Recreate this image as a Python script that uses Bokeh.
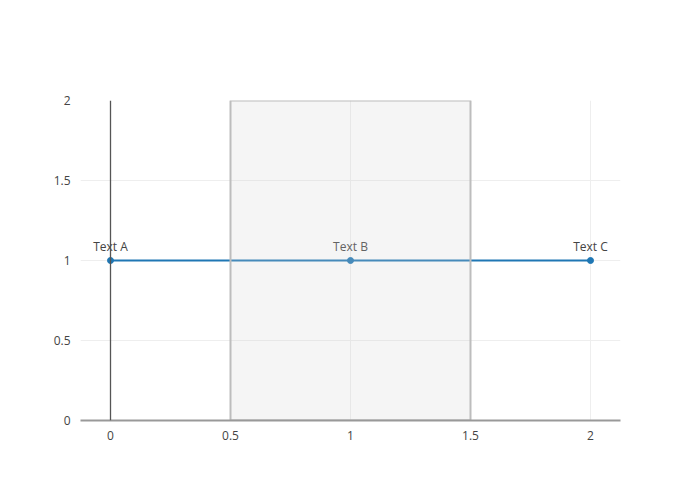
from bokeh.plotting import figure
from bokeh.models import ColumnDataSource, FixedTicker, Span, Range1d
from bokeh.core.properties import value
from bokeh.embed import file_html
from bokeh.resources import INLINE

xs = [0, 1, 2]
ys = [1, 1, 1]
labels = ["Text A", "Text B", "Text C"]
rect_x0, rect_x1 = 0.5, 1.5
rect_y0, rect_y1 = 0, 2
x_ticks = [0, 0.5, 1, 1.5, 2]
y_ticks = [0, 0.5, 1, 1.5, 2]
tick_text = ["0", "0.5", "1", "1.5", "2"]

FONT = "Open Sans"
TXT = "#444444"

p = figure(width=684, height=484, output_backend="svg", toolbar_location=None,
           x_range=Range1d(-0.125, 2.125), y_range=Range1d(0, 2),
           min_border_left=80, min_border_right=64, min_border_top=100, min_border_bottom=64)
p.outline_line_color = None
p.background_fill_color = "white"
p.border_fill_color = "white"

for ax in (p.xaxis[0], p.yaxis[0]):
    ax.major_tick_line_color = None
    ax.minor_tick_line_color = None
    ax.major_label_text_font = FONT
    ax.major_label_text_font_size = "12px"
    ax.major_label_text_color = TXT
p.xaxis.ticker = FixedTicker(ticks=x_ticks)
p.yaxis.ticker = FixedTicker(ticks=y_ticks)
p.xaxis.major_label_overrides = {t: s for t, s in zip(x_ticks, tick_text)}
p.yaxis.major_label_overrides = {t: s for t, s in zip(y_ticks, tick_text)}
p.xaxis.axis_line_color = "#999999"
p.xaxis.axis_line_width = 2
p.yaxis.axis_line_color = None
p.xaxis.major_label_standoff = 4
p.yaxis.major_label_standoff = 4

p.xgrid.grid_line_color = "#eeeeee"
p.ygrid.grid_line_color = "#eeeeee"
p.xgrid.grid_line_width = 1
p.ygrid.grid_line_width = 1

p.add_layout(Span(location=0, dimension="height", line_color="#555555", line_width=1.3))

src = ColumnDataSource(dict(x=xs, y=ys, t=labels))
p.line("x", "y", source=src, line_color="#1f77b4", line_width=2)
p.scatter("x", "y", source=src, size=6, fill_color="#1f77b4", line_color="#1f77b4")
p.text("x", "y", text="t", source=src, text_font=value(FONT), text_font_size="12px",
       text_color=TXT, text_align="center", text_baseline="bottom", y_offset=-6)

p.quad(left=[rect_x0], right=[rect_x1], bottom=[rect_y0], top=[rect_y1],
       fill_color="#d3d3d3", fill_alpha=0.22, line_color="#bdbdbd", line_width=2)

open("out.html", "w").write(file_html(p, INLINE))
